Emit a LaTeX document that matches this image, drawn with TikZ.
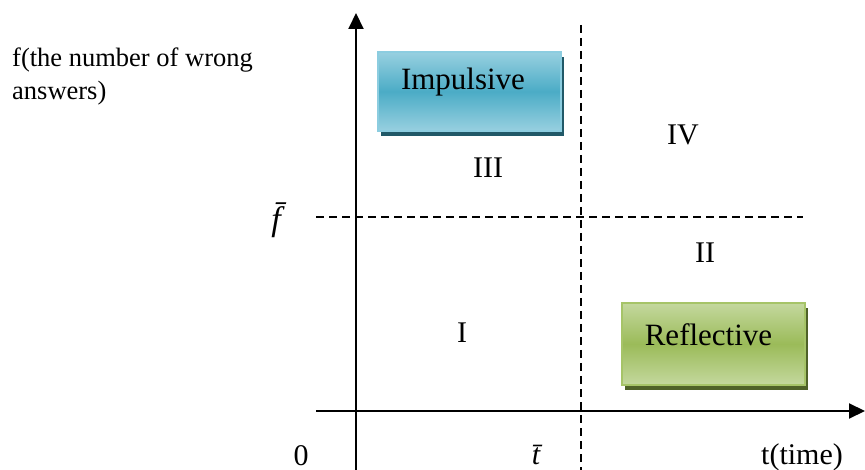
\documentclass[tikz,border=0pt]{standalone}
\usepackage{fontspec}
\setmainfont{Liberation Serif}
\usetikzlibrary{arrows.meta,shadows}
\definecolor{bluemid}{HTML}{4BACC6}
\definecolor{bluelight}{HTML}{98D0E0}
\definecolor{blueborder}{HTML}{8CCDE0}
\definecolor{blueshadow}{HTML}{215968}
\definecolor{greenmid}{HTML}{9BBB59}
\definecolor{greenlight}{HTML}{C4D89E}
\definecolor{greenborder}{HTML}{A6C468}
\definecolor{greenshadow}{HTML}{4F6228}
\tikzset{
  axis/.style={line width=2pt,-{Triangle[length=16pt,width=15pt]}},
  guide/.style={line width=2pt,dash pattern=on 8pt off 5pt},
  region/.style={font=\fontsize{30}{36}\selectfont,inner sep=0pt,anchor=base},
  boxtext/.style={font=\fontsize{31}{37}\selectfont,inner sep=0pt},
  impbox/.style={draw=blueborder,line width=2pt,top color=bluelight,bottom color=bluelight,middle color=bluemid,
    minimum width=183pt,minimum height=79pt,inner sep=0pt,
    drop shadow={shadow xshift=3pt,shadow yshift=-5pt,fill=blueshadow,opacity=1}},
  refbox/.style={draw=greenborder,line width=2pt,top color=greenlight,bottom color=greenlight,middle color=greenmid,
    minimum width=183pt,minimum height=82pt,inner sep=0pt,
    drop shadow={shadow xshift=3pt,shadow yshift=-5pt,fill=greenshadow,opacity=1}}
}
\begin{document}
\begin{tikzpicture}[x=1pt,y=-1pt]
\useasboundingbox (0,0) rectangle (865,470);
% guide lines
\coordinate (vtop) at (581,25);
\coordinate (vbot) at (581,470);
\coordinate (hl) at (316,217);
\coordinate (hr) at (803,217);
\draw[guide] (vtop) -- (vbot);
\draw[guide] (hl) -- (hr);
% axes
\coordinate (ybot) at (356,470);
\coordinate (ytop) at (356,13);
\coordinate (xl) at (316,411);
\coordinate (xr) at (865,411);
\draw[axis] (ybot) -- (ytop);
\draw[axis] (xl) -- (xr);
% boxes
\node[impbox] (imp) at (469,91.5) {};
\node[boxtext] (impt) at ([shift={(-6,-9)}]imp.center) {Impulsive};
\node[refbox] (ref) at (713.5,344) {};
\node[boxtext] (reft) at ([shift={(-5,-9)}]ref.center) {Reflective};
% region labels
\node[region] (r3) at (488,178) {III};
\node[region] (r4) at (683,145) {IV};
\node[region] (r2) at (705,263) {II};
\node[region] (r1) at (462,343) {I};
% axis labels
\node[font=\fontsize{26.5}{33}\selectfont,align=left,inner sep=0pt,anchor=base west] (ylab) at (12,100) {f(the number of wrong\\answers)};
\node[region] (zero) at (301,465) {0};
\node[region] (tlab) at (802,464) {t(time)};
\node[inner sep=0pt,font=\fontsize{34}{38}\itshape] (fbar) at (276,220) {\={f}};
\node[inner sep=0pt,font=\fontsize{30}{34}\itshape] (tbar) at (536,455) {\={t}};
\end{tikzpicture}
\end{document}
